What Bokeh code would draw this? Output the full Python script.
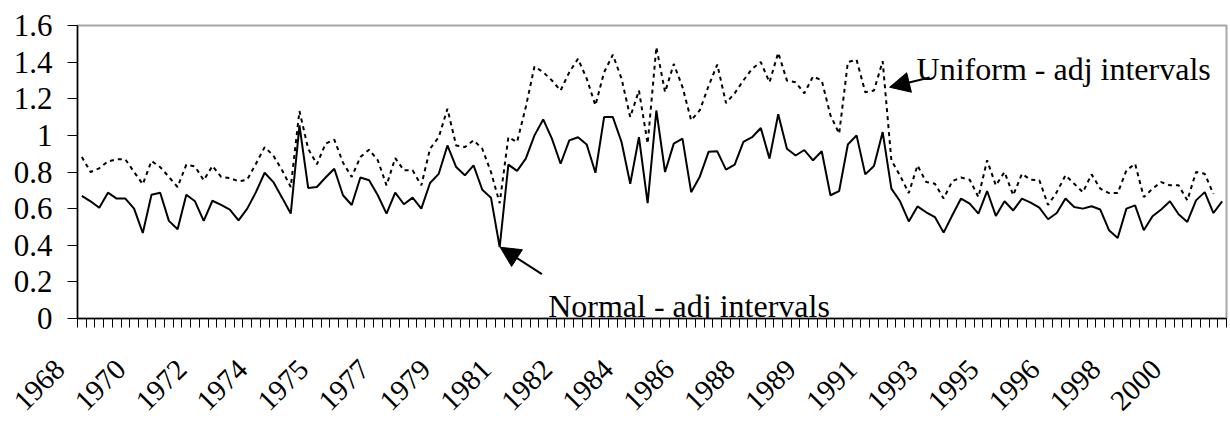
import numpy as np
from bokeh.plotting import figure
from bokeh.models import Range1d, FixedTicker, Arrow, NormalHead, Label
from bokeh.core.properties import value
from bokeh.embed import file_html
from bokeh.resources import INLINE

# Quarterly observations, 1968Q4 .. 2001Q3
normal = [0.67, 0.64, 0.605, 0.687, 0.655, 0.655, 0.60, 0.467, 0.676, 0.687,
          0.533, 0.487, 0.676, 0.64, 0.533, 0.643, 0.62, 0.595, 0.536, 0.60,
          0.69, 0.796, 0.745, 0.66, 0.573, 1.055, 0.713, 0.718, 0.77, 0.818,
          0.673, 0.62, 0.77, 0.755, 0.673, 0.573, 0.687, 0.624, 0.66, 0.60,
          0.74, 0.79, 0.945, 0.827, 0.782, 0.836, 0.703, 0.66, 0.39, 0.84,
          0.806, 0.873, 1.0, 1.087, 0.982, 0.845, 0.973, 0.99, 0.95, 0.796,
          1.1, 1.1, 0.964, 0.736, 0.99, 0.63, 1.136, 0.80, 0.955, 0.982,
          0.69, 0.776, 0.91, 0.913, 0.813, 0.84, 0.964, 0.99, 1.04, 0.873,
          1.115, 0.927, 0.89, 0.92, 0.864, 0.913, 0.673, 0.696, 0.95, 1.0,
          0.787, 0.833, 1.018, 0.709, 0.64, 0.53, 0.612, 0.58, 0.554, 0.469,
          0.564, 0.655, 0.627, 0.573, 0.696, 0.56, 0.64, 0.59, 0.655, 0.633,
          0.605, 0.542, 0.576, 0.655, 0.609, 0.60, 0.613, 0.595, 0.482, 0.44,
          0.60, 0.618, 0.482, 0.558, 0.595, 0.64, 0.569, 0.527, 0.645, 0.69,
          0.576, 0.64]

uniform = [0.882, 0.80, 0.82, 0.858, 0.869, 0.869, 0.80, 0.733, 0.86, 0.827,
           0.773, 0.718, 0.84, 0.83, 0.755, 0.833, 0.773, 0.767, 0.749, 0.758,
           0.845, 0.936, 0.89, 0.81, 0.718, 1.133, 0.927, 0.842, 0.955, 0.977,
           0.851, 0.773, 0.882, 0.922, 0.864, 0.727, 0.876, 0.809, 0.809, 0.727,
           0.927, 0.99, 1.145, 0.945, 0.936, 0.973, 0.927, 0.80, 0.63, 0.99,
           0.964, 1.155, 1.376, 1.345, 1.30, 1.245, 1.345, 1.418, 1.31, 1.164,
           1.345, 1.44, 1.31, 1.10, 1.245, 0.955, 1.482, 1.236, 1.39, 1.264,
           1.082, 1.138, 1.27, 1.387, 1.176, 1.23, 1.30, 1.364, 1.40, 1.29,
           1.451, 1.30, 1.29, 1.23, 1.322, 1.30, 1.11, 1.009, 1.40, 1.413,
           1.236, 1.245, 1.405, 0.864, 0.78, 0.685, 0.836, 0.745, 0.736, 0.655,
           0.75, 0.77, 0.758, 0.663, 0.864, 0.727, 0.80, 0.673, 0.79, 0.758,
           0.755, 0.62, 0.69, 0.782, 0.736, 0.69, 0.787, 0.709, 0.685, 0.685,
           0.809, 0.845, 0.663, 0.709, 0.745, 0.727, 0.727, 0.645, 0.80, 0.79,
           0.68, float("nan")]

year_labels = ["1968", "1970", "1972", "1974", "1975", "1977", "1979", "1981",
               "1982", "1984", "1986", "1988", "1989", "1991", "1993", "1995",
               "1996", "1998", "2000"]
label_index = [0, 7, 14, 21, 28, 35, 42, 49, 56, 63, 70, 77, 84, 91, 98, 105,
               112, 119, 126]

y_ticks = [0, 0.2, 0.4, 0.6, 0.8, 1.0, 1.2, 1.4, 1.6]
y_labels = ["0", "0.2", "0.4", "0.6", "0.8", "1", "1.2", "1.4", "1.6"]

FONT = "Liberation Serif"
W = 1230
LEFT, RIGHT = 77, 4          # frame borders of the chart (px)
TOP_H, BOT_H = 340, 84       # chart height / year-label strip height (px)
LABEL_DROP = 24              # px below the strip top for label anchors

n = len(normal)
xs = list(range(n))

p = figure(width=W, height=TOP_H, output_backend="svg", toolbar_location=None,
           x_range=Range1d(-0.5, n - 0.5), y_range=Range1d(0, 1.6),
           min_border_left=LEFT, min_border_right=RIGHT, min_border_top=25,
           min_border_bottom=TOP_H - 318)
p.background_fill_color = "white"
p.border_fill_color = "white"
p.outline_line_color = "#a6a6a6"
p.outline_line_width = 2
p.xgrid.visible = False
p.ygrid.visible = False

p.line(xs, uniform, line_color="black", line_width=2, line_dash="4 4")
p.line(xs, normal, line_color="black", line_width=2)

# x axis: tick marks between quarters
p.xaxis.ticker = FixedTicker(ticks=[], minor_ticks=[i - 0.5 for i in range(n + 1)])
p.xaxis.major_tick_line_color = None
p.xaxis.minor_tick_out = 9
p.xaxis.minor_tick_in = 0
p.xaxis.minor_tick_line_color = "black"
p.xaxis.minor_tick_line_width = 1
p.xaxis.major_label_text_font_size = "0px"
p.xaxis.axis_line_color = "black"
p.xaxis.axis_line_width = 1.5

# y axis
p.yaxis.ticker = FixedTicker(ticks=y_ticks, minor_ticks=[])
p.yaxis.major_label_overrides = {t: lab for t, lab in zip(y_ticks, y_labels)}
p.yaxis.major_tick_out = 10
p.yaxis.major_tick_in = 0
p.yaxis.major_tick_line_color = "black"
p.yaxis.minor_tick_line_color = None
p.yaxis.major_label_standoff = 15
p.yaxis.major_label_text_font = FONT
p.yaxis.major_label_text_font_size = "31px"
p.yaxis.major_label_text_color = "black"
p.yaxis.axis_line_color = "black"
p.yaxis.axis_line_width = 1.5

# annotations
p.add_layout(Arrow(end=NormalHead(size=20, fill_color="black", line_color="black"),
                   x_start=52.85, y_start=0.242, x_end=48.06, y_end=0.389,
                   line_color="black", line_width=2))
p.add_layout(Arrow(end=NormalHead(size=20, fill_color="black", line_color="black"),
                   x_start=97.4, y_start=1.316, x_end=92.8, y_end=1.263,
                   line_color="black", line_width=2))
p.add_layout(Label(x=53.57, y=0.067, text="Normal - adj intervals",
                   text_font=FONT, text_font_size="32px", text_color="black",
                   text_baseline="alphabetic"))
p.add_layout(Label(x=95.9, y=1.36, text="Uniform - adj intervals",
                   text_font=FONT, text_font_size="32px", text_color="black",
                   text_baseline="alphabetic"))

# strip below the chart holding the rotated year labels, on the same x scale
px_per_q = (W - LEFT - RIGHT) / n
strip = figure(width=W, height=BOT_H, output_backend="svg", toolbar_location=None,
               x_range=Range1d(-0.5 - LEFT / px_per_q, n - 0.5 + RIGHT / px_per_q),
               y_range=Range1d(-BOT_H, 0), x_axis_location=None,
               y_axis_location=None, min_border=0)
strip.outline_line_color = None
strip.xgrid.visible = False
strip.ygrid.visible = False
strip.background_fill_color = "white"
strip.border_fill_color = "white"
strip.text(x=label_index, y=[-LABEL_DROP] * len(label_index), text=year_labels,
           angle=np.pi / 4, x_offset=-22, text_align="right",
           text_baseline="middle", text_font=value(FONT),
           text_font_size=value("29px"), text_color="black")

open("out.html", "w").write(file_html([p, strip], INLINE))
